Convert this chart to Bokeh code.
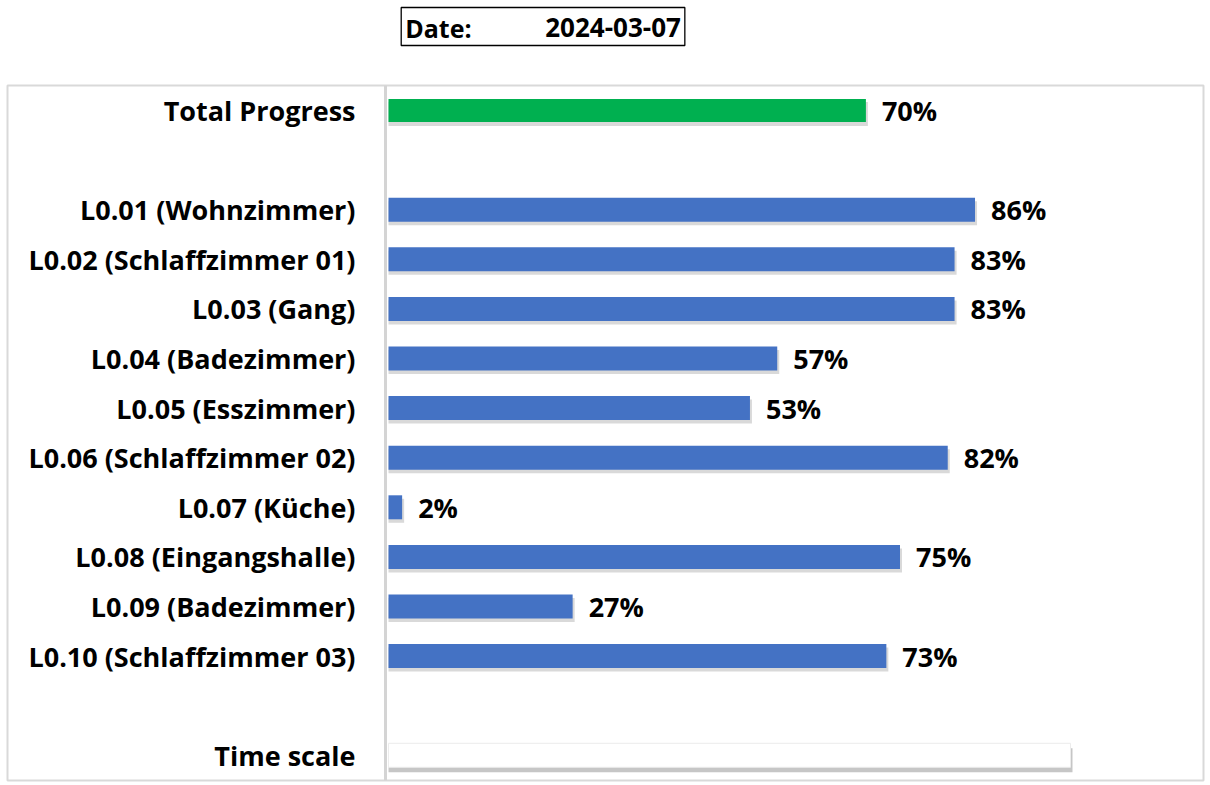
from bokeh.plotting import figure
from bokeh.layouts import column
from bokeh.models import Range1d, Span, ColumnDataSource
from bokeh.core.properties import value
from bokeh.embed import file_html
from bokeh.resources import INLINE

# ---------------- data ----------------
date_label = "Date:"
date_value = "2024-03-07"
total_label = "Total Progress"
total_value = 70
rooms = ["L0.01 (Wohnzimmer)", "L0.02 (Schlaffzimmer 01)", "L0.03 (Gang)",
         "L0.04 (Badezimmer)", "L0.05 (Esszimmer)", "L0.06 (Schlaffzimmer 02)",
         "L0.07 (Küche)", "L0.08 (Eingangshalle)", "L0.09 (Badezimmer)",
         "L0.10 (Schlaffzimmer 03)"]
room_progress = [86, 83, 83, 57, 53, 82, 2, 75, 27, 73]
time_label = "Time scale"
time_value = 100

FONT = value("Open Sans")
PX_PER_PCT = 6.82
ROW_PX = 49.6

total_row = 0
room_rows = [2 + i for i in range(len(rooms))]
time_row = room_rows[-1] + 2

# ---------------- header figure (date box) ----------------
W = 1206
HH = 84
hdr = figure(width=W, height=HH, x_range=Range1d(0, W), y_range=Range1d(HH, 0),
             output_backend="svg", toolbar_location=None,
             x_axis_location=None, y_axis_location=None, min_border=0)
hdr.outline_line_color = None
hdr.grid.visible = False
hdr.quad(left=[397], right=[683], top=[7], bottom=[45], fill_color="white",
         line_color="black", line_width=1.3)
hdr.text(x=[401], y=[27], text=[date_label], text_font=FONT, text_font_style="bold",
         text_font_size="25px", text_align="left", text_baseline="middle", text_color="black")
hdr.text(x=[679], y=[27], text=[date_value], text_font=FONT, text_font_style="bold",
         text_font_size="26px", text_align="right", text_baseline="middle", text_color="black")

# ---------------- main chart ----------------
H = 698
top_px, bot_px, left_px, right_px = 85, 780, 7, 1203
p = figure(width=W, height=H,
           x_range=Range1d((left_px - 388) / PX_PER_PCT, (right_px - 388) / PX_PER_PCT),
           y_range=Range1d((bot_px - 110) / ROW_PX, (top_px - 110) / ROW_PX),
           output_backend="svg", toolbar_location=None,
           x_axis_location=None, y_axis_location=None,
           min_border_left=left_px, min_border_right=W - right_px,
           min_border_top=top_px - HH, min_border_bottom=HH + H - bot_px)
p.grid.visible = False
p.outline_line_color = "#d9d9d9"
p.outline_line_width = 2
p.background_fill_color = "white"

# axis line
p.add_layout(Span(location=-3 / PX_PER_PCT, dimension="height",
                  line_color="#d4d4d4", line_width=3))

bar_h = 24 / ROW_PX
sh_dy = 3.5 / ROW_PX
sh_dx = 2.0 / PX_PER_PCT

room_src = ColumnDataSource(dict(y=room_rows, v=room_progress,
                                 lbl=[f"{v}%" for v in room_progress], name=rooms,
                                 ys=[r + sh_dy for r in room_rows],
                                 vs=[v + sh_dx for v in room_progress]))

# shadows
p.hbar(y=[total_row + sh_dy], left=0, right=[total_value + sh_dx], height=bar_h,
       fill_color="#808080", fill_alpha=0.3, line_color=None)
p.hbar(y="ys", left=0, right="vs", height=bar_h, source=room_src,
       fill_color="#808080", fill_alpha=0.3, line_color=None)
p.hbar(y=[time_row + sh_dy * 1.4], left=0, right=[time_value + sh_dx], height=bar_h,
       fill_color="#808080", fill_alpha=0.45, line_color=None)

# bars
p.hbar(y=[total_row], left=0, right=[total_value], height=bar_h * 0.96,
       fill_color="#00B050", line_color=None)
p.hbar(y="y", left=0, right="v", height=bar_h, source=room_src,
       fill_color="#4472C4", line_color=None)
p.hbar(y=[time_row], left=0, right=[time_value], height=bar_h,
       fill_color="white", line_color="#ececec", line_width=1)

# category labels
lbl_x = (355 - 388) / PX_PER_PCT
common = dict(text_font=FONT, text_font_style="bold", text_font_size="27px",
              text_baseline="middle", text_color="black")
p.text(x=[lbl_x], y=[total_row], text=[total_label], text_align="right", **common)
p.text(x=lbl_x, y="y", text="name", source=room_src, text_align="right", **common)
p.text(x=[lbl_x], y=[time_row], text=[time_label], text_align="right", **common)

# value labels
p.text(x=[total_value], y=[total_row], text=[f"{total_value}%"], x_offset=16,
       text_align="left", **common)
p.text(x="v", y="y", text="lbl", source=room_src, x_offset=16, text_align="left", **common)

layout = column(hdr, p, spacing=0)
open("out.html", "w").write(file_html(layout, INLINE))
